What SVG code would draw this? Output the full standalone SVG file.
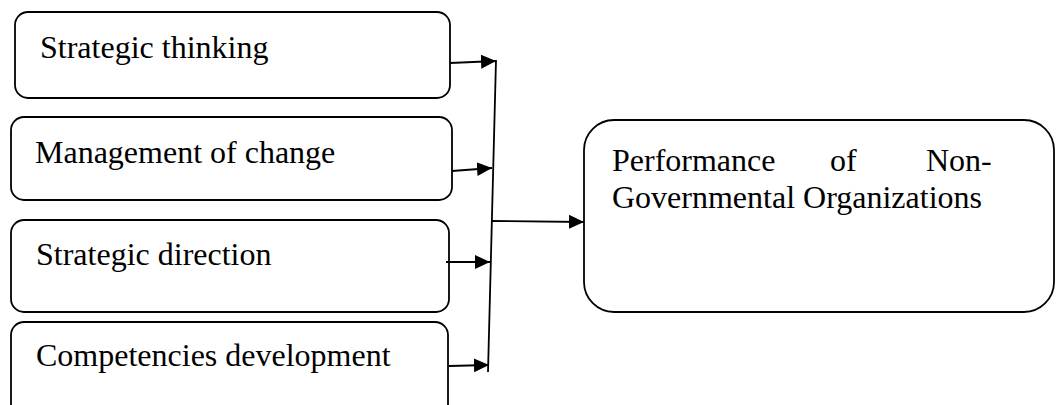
<svg xmlns="http://www.w3.org/2000/svg" width="1056" height="405" viewBox="0 0 1056 405">
<style>
.box{fill:#fff;stroke:#000;stroke-width:1.8}
.lbl{font-family:"Liberation Serif","Times New Roman",serif;font-size:32px;fill:#000}
.con{stroke:#000;stroke-width:1.8;fill:none}
</style>
<defs>
<marker id="ah" markerUnits="userSpaceOnUse" markerWidth="16" markerHeight="16" viewBox="0 0 16 16" refX="15" refY="8" orient="auto">
<path d="M0,1 L15,8 L0,15 Z" fill="#000"/>
</marker>
</defs>
<rect width="1056" height="405" fill="#fff"/>
<g id="n1"><rect class="box" x="15" y="12" width="435" height="86" rx="13"/><text class="lbl" x="40" y="58">Strategic thinking</text></g>
<g id="n2"><rect class="box" x="11" y="117" width="441" height="83" rx="13"/><text class="lbl" x="35" y="163">Management of change</text></g>
<g id="n3"><rect class="box" x="11" y="220" width="438" height="92" rx="13"/><text class="lbl" x="36" y="265">Strategic direction</text></g>
<g id="n4"><rect class="box" x="11" y="322" width="437" height="100" rx="13"/><text class="lbl" x="36" y="366">Competencies development</text></g>
<g id="target"><rect class="box" x="584" y="120" width="470" height="192" rx="30"/>
<text class="lbl" y="171"><tspan x="612">Performance</tspan><tspan x="830">of</tspan><tspan x="926">Non-</tspan></text>
<text class="lbl" x="612" y="208">Governmental Organizations</text></g>
<g id="connectors">
<line class="con" x1="496" y1="60" x2="488" y2="372"/>
<line class="con" x1="450" y1="63" x2="496" y2="61" marker-end="url(#ah)"/>
<line class="con" x1="452" y1="171" x2="492" y2="168" marker-end="url(#ah)"/>
<line class="con" x1="446" y1="262" x2="490" y2="262" marker-end="url(#ah)"/>
<line class="con" x1="449" y1="366" x2="489" y2="365" marker-end="url(#ah)"/>
<line class="con" x1="492" y1="221" x2="584" y2="222" marker-end="url(#ah)"/>
</g>
</svg>
